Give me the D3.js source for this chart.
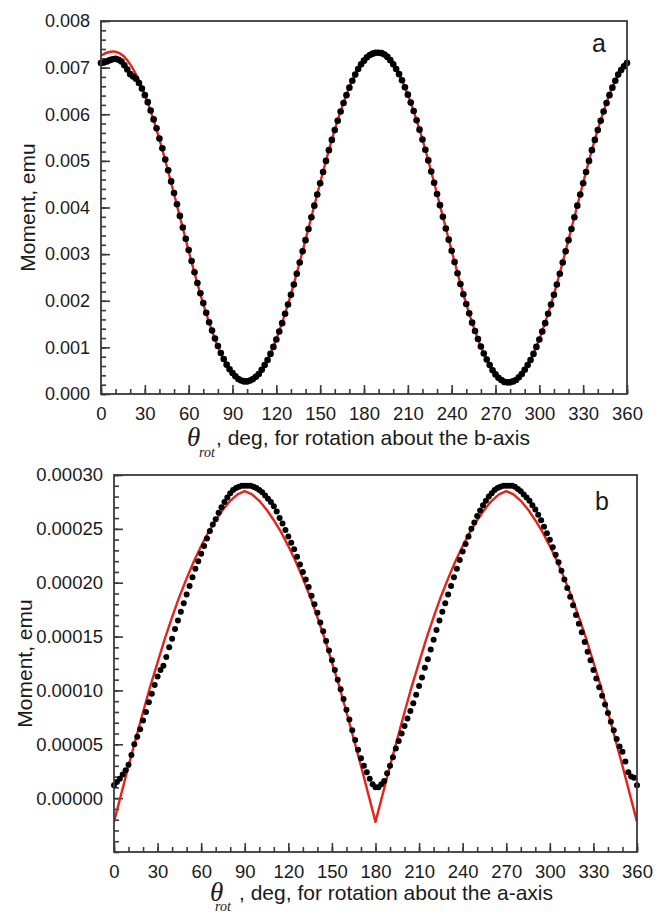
<!DOCTYPE html>
<html>
<head>
<meta charset="utf-8">
<script src="https://cdn.jsdelivr.net/npm/d3@7"></script>
<style>
  body { margin: 0; background: #fff; }
  svg text { font-family: "Liberation Sans", Arial, sans-serif; fill: #1a1a1a; }
</style>
</head>
<body>
<div id="chart"></div>
<script>
// measured angles (deg) and fit angles
const dotAngles = d3.range(0, 361, 2)
const fitAngles = d3.range(0, 361, 5)
const xTickLabels = [0, 30, 60, 90, 120, 150, 180, 210, 240, 270, 300, 330, 360]

// panel a: rotation about the b-axis (emu)
const yTicksA = [0, 0.001, 0.002, 0.003, 0.004, 0.005, 0.006, 0.007, 0.008]
const momentA = [
  0.00710, 0.00711, 0.00713, 0.00716, 0.00718, 0.00719, 0.00717, 0.00713, 0.00705, 0.00696,
  0.00686, 0.00681, 0.00676, 0.00667, 0.00655, 0.00641, 0.00626, 0.00608, 0.00589, 0.00570,
  0.00548, 0.00527, 0.00503, 0.00480, 0.00456, 0.00431, 0.00407, 0.00382, 0.00357, 0.00333,
  0.00309, 0.00285, 0.00261, 0.00238, 0.00216, 0.00195, 0.00174, 0.00154, 0.00136, 0.00119,
  0.00103, 0.00088, 0.00075, 0.00063, 0.00053, 0.00045, 0.00038, 0.00032, 0.00029, 0.00027,
  0.00027, 0.00029, 0.00032, 0.00037, 0.00043, 0.00052, 0.00062, 0.00073, 0.00086, 0.00101,
  0.00117, 0.00134, 0.00152, 0.00172, 0.00192, 0.00213, 0.00235, 0.00258, 0.00282, 0.00306,
  0.00330, 0.00354, 0.00379, 0.00404, 0.00428, 0.00452, 0.00476, 0.00500, 0.00523, 0.00545,
  0.00566, 0.00586, 0.00606, 0.00624, 0.00641, 0.00657, 0.00672, 0.00685, 0.00697, 0.00707,
  0.00715, 0.00722, 0.00727, 0.00730, 0.00732, 0.00732, 0.00731, 0.00728, 0.00723, 0.00716,
  0.00707, 0.00697, 0.00686, 0.00673, 0.00658, 0.00642, 0.00625, 0.00607, 0.00587, 0.00567,
  0.00546, 0.00524, 0.00501, 0.00477, 0.00453, 0.00429, 0.00405, 0.00380, 0.00355, 0.00331,
  0.00307, 0.00283, 0.00259, 0.00236, 0.00214, 0.00193, 0.00173, 0.00153, 0.00135, 0.00118,
  0.00102, 0.00087, 0.00074, 0.00062, 0.00051, 0.00042, 0.00035, 0.00030, 0.00026, 0.00025,
  0.00025, 0.00027, 0.00030, 0.00036, 0.00043, 0.00052, 0.00062, 0.00073, 0.00086, 0.00101,
  0.00117, 0.00134, 0.00152, 0.00172, 0.00192, 0.00213, 0.00235, 0.00258, 0.00282, 0.00306,
  0.00330, 0.00354, 0.00379, 0.00404, 0.00428, 0.00452, 0.00476, 0.00500, 0.00523, 0.00545,
  0.00566, 0.00586, 0.00606, 0.00624, 0.00641, 0.00657, 0.00672, 0.00685, 0.00695, 0.00703,
  0.00710
]
const fitA = [
  0.00726, 0.00733, 0.00734, 0.00726, 0.00707, 0.00679, 0.00642, 0.00597, 0.00546, 0.00489,
  0.00429, 0.00368, 0.00307, 0.00248, 0.00193, 0.00144, 0.00102, 0.00068, 0.00044, 0.00030,
  0.00027, 0.00035, 0.00053, 0.00081, 0.00118, 0.00163, 0.00214, 0.00271, 0.00331, 0.00392,
  0.00453, 0.00512, 0.00567, 0.00616, 0.00658, 0.00692, 0.00716, 0.00730, 0.00733, 0.00725,
  0.00707, 0.00679, 0.00642, 0.00597, 0.00546, 0.00489, 0.00429, 0.00368, 0.00307, 0.00248,
  0.00193, 0.00144, 0.00102, 0.00068, 0.00044, 0.00030, 0.00027, 0.00035, 0.00053, 0.00081,
  0.00118, 0.00163, 0.00214, 0.00271, 0.00331, 0.00392, 0.00453, 0.00512, 0.00567, 0.00616,
  0.00658, 0.00692, 0.00716
]

// panel b: rotation about the a-axis (emu)
const yTicksB = [0, 0.00005, 0.0001, 0.00015, 0.0002, 0.00025, 0.0003]
const momentB = [
  1.2e-5, 1.5e-5, 1.8e-5, 2.2e-5, 2.6e-5, 3.1e-5, 4.0e-5, 5.0e-5, 5.7e-5, 6.4e-5,
  7.2e-5, 8.0e-5, 8.9e-5, 9.7e-5, 10.5e-5, 11.3e-5, 11.9e-5, 12.3e-5, 13.1e-5, 14.0e-5,
  14.8e-5, 15.7e-5, 16.5e-5, 17.3e-5, 18.1e-5, 18.9e-5, 19.7e-5, 20.5e-5, 21.3e-5, 22.0e-5,
  22.7e-5, 23.4e-5, 24.1e-5, 24.8e-5, 25.4e-5, 25.9e-5, 26.5e-5, 27.0e-5, 27.5e-5, 27.9e-5,
  28.3e-5, 28.6e-5, 28.8e-5, 28.9e-5, 29.0e-5, 29.0e-5, 29.0e-5, 29.0e-5, 28.9e-5, 28.8e-5,
  28.6e-5, 28.4e-5, 28.1e-5, 27.8e-5, 27.5e-5, 27.1e-5, 26.6e-5, 26.0e-5, 25.5e-5, 24.9e-5,
  24.3e-5, 23.7e-5, 23.1e-5, 22.4e-5, 21.7e-5, 21.0e-5, 20.3e-5, 19.6e-5, 18.8e-5, 18.0e-5,
  17.2e-5, 16.3e-5, 15.5e-5, 14.6e-5, 13.7e-5, 12.8e-5, 11.9e-5, 11.0e-5, 10.1e-5, 9.2e-5,
  8.2e-5, 7.3e-5, 6.3e-5, 5.4e-5, 4.5e-5, 3.7e-5, 3.0e-5, 2.4e-5, 1.8e-5, 1.3e-5,
  1.0e-5, 1.0e-5, 1.3e-5, 1.6e-5, 2.3e-5, 3.0e-5, 3.8e-5, 4.6e-5, 5.3e-5, 6.0e-5,
  6.7e-5, 7.4e-5, 8.1e-5, 8.8e-5, 9.6e-5, 10.4e-5, 11.2e-5, 12.1e-5, 12.9e-5, 13.8e-5,
  14.7e-5, 15.6e-5, 16.5e-5, 17.3e-5, 18.1e-5, 18.9e-5, 19.7e-5, 20.5e-5, 21.3e-5, 22.1e-5,
  22.9e-5, 23.6e-5, 24.3e-5, 25.0e-5, 25.6e-5, 26.2e-5, 26.7e-5, 27.2e-5, 27.6e-5, 28.0e-5,
  28.3e-5, 28.6e-5, 28.8e-5, 28.9e-5, 29.0e-5, 29.0e-5, 29.0e-5, 29.0e-5, 28.9e-5, 28.7e-5,
  28.5e-5, 28.2e-5, 27.9e-5, 27.6e-5, 27.2e-5, 26.8e-5, 26.3e-5, 25.8e-5, 25.2e-5, 24.6e-5,
  24.0e-5, 23.3e-5, 22.6e-5, 21.9e-5, 21.1e-5, 20.3e-5, 19.5e-5, 18.7e-5, 17.9e-5, 17.0e-5,
  16.2e-5, 15.4e-5, 14.5e-5, 13.6e-5, 12.8e-5, 11.9e-5, 11.1e-5, 10.3e-5, 9.5e-5, 8.7e-5,
  7.9e-5, 7.1e-5, 6.3e-5, 5.5e-5, 4.8e-5, 4.3e-5, 3.4e-5, 2.4e-5, 2.0e-5, 1.9e-5,
  1.2e-5
]
const fitB = [
  -2.2e-5, 0.4e-5, 3.0e-5, 5.5e-5, 8.0e-5, 10.4e-5, 12.6e-5, 14.8e-5, 16.8e-5, 18.7e-5,
  20.4e-5, 22.0e-5, 23.4e-5, 24.7e-5, 25.8e-5, 26.8e-5, 27.6e-5, 28.2e-5, 28.5e-5,
  28.2e-5, 27.6e-5, 26.8e-5, 25.8e-5, 24.7e-5, 23.4e-5, 22.0e-5, 20.4e-5, 18.7e-5,
  16.8e-5, 14.8e-5, 12.6e-5, 10.4e-5, 8.0e-5, 5.5e-5, 3.0e-5, 0.4e-5, -2.2e-5,
  0.4e-5, 3.0e-5, 5.5e-5, 8.0e-5, 10.4e-5, 12.6e-5, 14.8e-5, 16.8e-5, 18.7e-5,
  20.4e-5, 22.0e-5, 23.4e-5, 24.7e-5, 25.8e-5, 26.8e-5, 27.6e-5, 28.2e-5, 28.5e-5,
  28.2e-5, 27.6e-5, 26.8e-5, 25.8e-5, 24.7e-5, 23.4e-5, 22.0e-5, 20.4e-5, 18.7e-5,
  16.8e-5, 14.8e-5, 12.6e-5, 10.4e-5, 8.0e-5, 5.5e-5, 3.0e-5, 0.4e-5, -2.2e-5
]

const width = 656
const height = 913
const frameColor = "#3a3a3a"
const fitColor = "#e5231b"

const svg = d3.select("#chart").append("svg")
    .attr("width", width)
    .attr("height", height)

function drawPanel(p) {
    const x = d3.scaleLinear().domain([0, 360]).range([p.left, p.right])
    const y = d3.scaleLinear().domain(p.yDomain).range([p.bottom, p.top])
    const g = svg.append("g")

    // inward minor ticks
    g.append("g")
        .attr("transform", `translate(0,${p.bottom})`)
        .call(d3.axisBottom(x).tickValues(d3.range(0, 361, 10)).tickSizeInner(-5).tickSizeOuter(0).tickFormat(""))
    g.append("g")
        .attr("transform", `translate(${p.left},0)`)
        .call(d3.axisLeft(y).tickValues(p.yMinor).tickSizeInner(-5).tickSizeOuter(0).tickFormat(""))

    // major ticks with labels
    g.append("g")
        .attr("class", "xaxis")
        .attr("transform", `translate(0,${p.bottom})`)
        .call(d3.axisBottom(x).tickValues(xTickLabels).tickSizeInner(-9).tickSizeOuter(0).tickPadding(13))
    g.append("g")
        .attr("class", "yaxis")
        .attr("transform", `translate(${p.left},0)`)
        .call(d3.axisLeft(y).tickValues(p.yTicks).tickSizeInner(-9).tickSizeOuter(0).tickPadding(11).tickFormat(d3.format(p.yFormat)))

    g.selectAll(".domain").remove()
    g.selectAll(".tick line").attr("stroke", frameColor).attr("stroke-width", 1.6)
    g.selectAll(".xaxis text").style("font-size", "18.5px").attr("fill", "#1a1a1a")
    g.selectAll(".yaxis text").style("font-size", p.yFontSize).attr("fill", "#1a1a1a")

    // fit curve
    const clipId = "clip" + p.letter
    svg.append("clipPath").attr("id", clipId)
        .append("rect")
        .attr("x", p.left).attr("y", p.top)
        .attr("width", p.right - p.left).attr("height", p.bottom - p.top)

    const line = d3.line()
        .x((d, i) => x(fitAngles[i]))
        .y(d => y(d))
        .curve(p.curve)
    g.append("path")
        .datum(p.fit)
        .attr("clip-path", `url(#${clipId})`)
        .attr("fill", "none")
        .attr("stroke", fitColor)
        .attr("stroke-width", 2.4)
        .attr("stroke-linejoin", "round")
        .attr("d", line)

    // measured points
    g.append("g")
        .selectAll("circle")
        .data(p.moment)
        .join("circle")
        .attr("cx", (d, i) => x(dotAngles[i]))
        .attr("cy", d => y(d))
        .attr("r", p.r)
        .attr("fill", "#000")

    // frame
    g.append("rect")
        .attr("x", p.left).attr("y", p.top)
        .attr("width", p.right - p.left).attr("height", p.bottom - p.top)
        .attr("fill", "none")
        .attr("stroke", frameColor)
        .attr("stroke-width", 1.8)

    // panel letter
    g.append("text")
        .attr("x", p.letterX).attr("y", p.letterY)
        .style("font-size", "25px")
        .text(p.letter)

    // y title
    g.append("text")
        .attr("transform", `translate(${p.yTitleX},${(p.top + p.bottom) / 2}) rotate(-90)`)
        .attr("text-anchor", "middle")
        .style("font-size", "21px")
        .text("Moment, emu")

    // x title: theta with "rot" subscript
    g.append("text")
        .attr("x", p.thetaX).attr("y", p.titleY + 1)
        .style("font-family", "'Liberation Serif', 'DejaVu Serif', serif")
        .style("font-style", "italic")
        .style("font-size", "27px")
        .text("θ")
    g.append("text")
        .attr("x", p.rotX).attr("y", p.rotY)
        .style("font-family", "'Liberation Serif', 'DejaVu Serif', serif")
        .style("font-style", "italic")
        .style("font-size", "14px")
        .text("rot")
    g.append("text")
        .attr("x", p.restX).attr("y", p.titleY)
        .style("font-size", "21px")
        .text(p.title)
}

drawPanel({
    letter: "a",
    left: 101, right: 627, top: 21, bottom: 394,
    yDomain: [0, 0.008],
    yTicks: yTicksA,
    yMinor: d3.range(0, 0.00801, 0.0002),
    yFormat: ".3f",
    yFontSize: "18px",
    moment: momentA,
    fit: fitA,
    curve: d3.curveCatmullRom,
    r: 3.3,
    letterX: 592, letterY: 52,
    yTitleX: 35,
    thetaX: 187, rotX: 199, rotY: 457, restX: 216, titleY: 445,
    title: ", deg, for rotation about the b-axis"
})

drawPanel({
    letter: "b",
    left: 114, right: 637, top: 475, bottom: 852,
    yDomain: [-0.00005, 0.0003],
    yTicks: yTicksB,
    yMinor: d3.range(-0.00005, 0.000301, 0.00001),
    yFormat: ".5f",
    yFontSize: "18.5px",
    moment: momentB,
    fit: fitB,
    curve: d3.curveLinear,
    r: 3.0,
    letterX: 595, letterY: 510,
    yTitleX: 32,
    thetaX: 210, rotX: 215, rotY: 911, restX: 239, titleY: 900,
    title: ", deg, for rotation about the a-axis"
})
</script>
</body>
</html>
